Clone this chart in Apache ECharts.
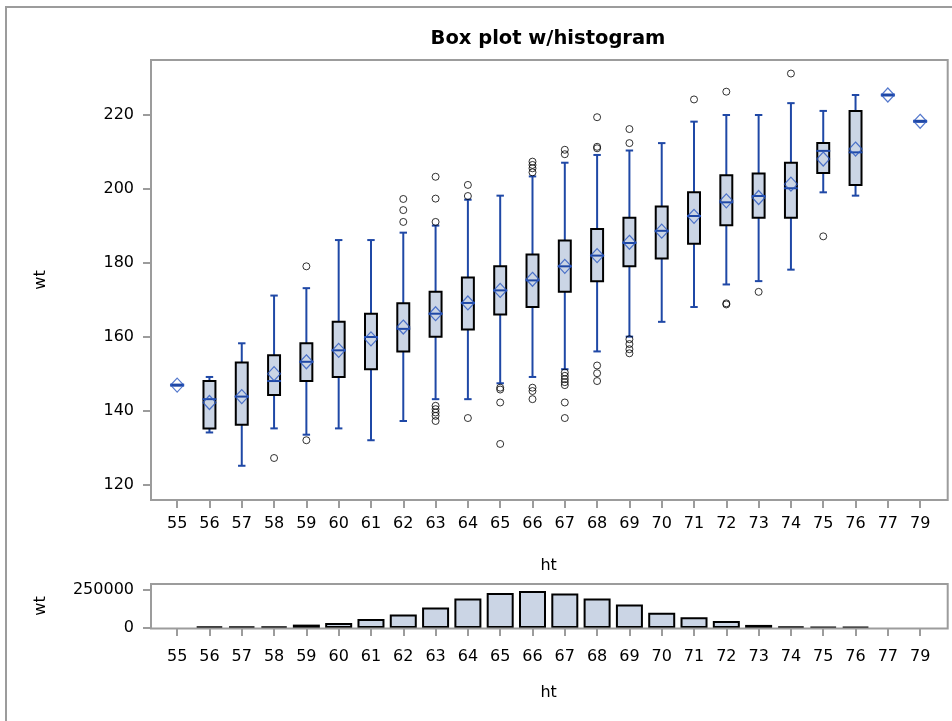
<!DOCTYPE html>
<html><head><meta charset="utf-8">
<script src="https://cdn.jsdelivr.net/npm/echarts@6/dist/echarts.min.js"></script>
<style>html,body{margin:0;padding:0;background:#fff}#c{width:952px;height:721px}</style>
</head><body><div id="c"></div>
<script>
const categories = ['55','56','57','58','59','60','61','62','63','64','65','66','67','68','69','70','71','72','73','74','75','76','77','79'];
const whiskerLow  = [147, 134.2, 125.2, 135.3, 133.6, 135.3, 132.1, 137.3, 143.2, 143.2, 147.5, 149.2, 151.3, 156.1, 160.1, 164.1, 168.1, 174.2, 175.1, 178.2, 199.1, 198.2, 225.4, 218.3];
const q1          = [147, 135.3, 136.3, 144.3, 148.1, 149.2, 151.3, 156.1, 160.1, 162.0, 166.1, 168.1, 172.2, 175.1, 179.1, 181.2, 185.2, 190.2, 192.2, 192.2, 204.3, 201.1, 225.4, 218.3];
const median      = [147, 143.2, 143.9, 148.1, 153.3, 156.4, 160.0, 162.2, 166.3, 169.2, 172.6, 175.3, 179.1, 182.0, 185.4, 188.7, 192.7, 196.4, 198.1, 200.2, 210.3, 209.9, 225.4, 218.3];
const q3          = [147, 148.1, 153.1, 155.1, 158.3, 164.1, 166.3, 169.1, 172.2, 176.1, 179.1, 182.3, 186.1, 189.2, 192.2, 195.3, 199.1, 203.7, 204.2, 207.1, 212.4, 221.1, 225.4, 218.3];
const whiskerHigh = [147, 149.2, 158.3, 171.2, 173.2, 186.2, 186.2, 188.2, 190.1, 197.1, 198.2, 203.4, 207.1, 209.2, 210.4, 212.4, 218.2, 220.0, 220.0, 223.2, 221.1, 225.4, 225.4, 218.3];
const meanWt      = [147, 142.3, 143.9, 150.1, 153.3, 156.4, 159.5, 162.7, 166.3, 169.2, 172.6, 175.6, 179.1, 182.0, 185.6, 188.6, 192.6, 196.8, 197.7, 201.3, 208.1, 210.8, 225.4, 218.3];
const outliers = [
  ['58',127.3],['59',179.1],['59',132.1],
  ['62',191.1],['62',194.3],['62',197.3],
  ['63',191.1],['63',197.4],['63',203.3],['63',141.4],['63',140.5],['63',139.6],['63',138.7],['63',137.3],
  ['64',201.1],['64',198.1],['64',138.1],
  ['65',146.3],['65',145.8],['65',142.3],['65',131.1],
  ['66',207.4],['66',206.5],['66',205.6],['66',204.5],['66',146.3],['66',145.4],['66',143.2],
  ['67',210.6],['67',209.4],['67',150.4],['67',149.5],['67',148.6],['67',147.8],['67',147.0],['67',142.3],['67',138.1],
  ['68',219.4],['68',211.4],['68',211.0],['68',152.3],['68',150.2],['68',148.1],
  ['69',216.2],['69',212.4],['69',159.4],['69',158.1],['69',156.7],['69',155.6],
  ['71',224.2],
  ['72',226.3],['72',169.1],['72',168.8],
  ['73',172.2],
  ['74',231.2],
  ['75',187.2]
];
const histWt = ['-', 9000, 10000, 10000, 22000, 33000, 59000, 88000, 134000, 191000, 228000, 241000, 224000, 191000, 153000, 99000, 70000, 46000, 20000, 9000, 8000, 8000, '-', '-'];
const boxTicks = [120, 140, 160, 180, 200, 220];
const histTicks = [0, 250000];

const FONT = 'DejaVu Sans';
const BLUE = '#1f48a6';
const FILL = '#cbd5e5';
const FRAME = '#9c9c9c';

const boxData = categories.map((c, i) => [i, whiskerLow[i], q1[i], median[i], q3[i], whiskerHigh[i]]);

function renderBox(params, api) {
  const i = api.value(0);
  const band = api.size([1, 0])[0];
  const pLow = api.coord([i, api.value(1)]);
  const pQ1 = api.coord([i, api.value(2)]);
  const pMed = api.coord([i, api.value(3)]);
  const pQ3 = api.coord([i, api.value(4)]);
  const pHigh = api.coord([i, api.value(5)]);
  const x = pLow[0];
  const bw = band * 0.37;
  const cw = band * 0.23;
  const single = (pLow[1] - pHigh[1]) < 0.5;
  const lineStyle = { stroke: BLUE, lineWidth: 2, fill: null };
  const children = [
    { type: 'line', shape: { x1: x, y1: pLow[1], x2: x, y2: pHigh[1] }, style: lineStyle },
    { type: 'line', shape: { x1: x - cw / 2, y1: pLow[1], x2: x + cw / 2, y2: pLow[1] }, style: lineStyle },
    { type: 'line', shape: { x1: x - cw / 2, y1: pHigh[1], x2: x + cw / 2, y2: pHigh[1] }, style: lineStyle }
  ];
  if (pQ1[1] - pQ3[1] > 0.5) {
    children.push({ type: 'rect', shape: { x: x - bw / 2, y: pQ3[1], width: bw, height: pQ1[1] - pQ3[1] },
      style: { fill: FILL, stroke: '#000', lineWidth: 2 } });
  }
  children.push({ type: 'line', shape: { x1: x - bw / 2 - 1, y1: pMed[1], x2: x + bw / 2 + 1, y2: pMed[1] },
    style: { stroke: BLUE, lineWidth: single ? 3 : 2, fill: null } });
  return { type: 'group', children };
}

const labelStyle = { fontFamily: FONT, fontSize: 16, color: '#000' };
const nameStyle = { fontFamily: FONT, fontSize: 16, color: '#000' };

const chart = echarts.init(document.getElementById('c'), null, { renderer: 'canvas' });
chart.setOption({
  backgroundColor: '#fff',
  animation: false,
  title: {
    text: 'Box plot w/histogram', left: 543, top: 24, textAlign: 'center',
    textStyle: { fontFamily: FONT, fontSize: 19.5, fontWeight: 'bold', color: '#000' }
  },
  grid: [
    { left: 161, right: 15.7, top: 60, bottom: 221 },
    { left: 161, right: 15.7, top: 584, bottom: 93 }
  ],
  xAxis: [
    { type: 'category', gridIndex: 0, data: categories, boundaryGap: true,
      axisLine: { show: false },
      axisTick: { show: true, alignWithLabel: true, interval: 0, length: 8, lineStyle: { color: FRAME, width: 2 } },
      axisLabel: Object.assign({ interval: 0, margin: 16 }, labelStyle),
      name: 'ht', nameLocation: 'middle', nameGap: 58, nameTextStyle: nameStyle,
      splitLine: { show: false } },
    { type: 'category', gridIndex: 1, data: categories, boundaryGap: true,
      axisLine: { show: false },
      axisTick: { show: true, alignWithLabel: true, interval: 0, length: 8, lineStyle: { color: FRAME, width: 2 } },
      axisLabel: Object.assign({ interval: 0, margin: 21 }, labelStyle),
      name: 'ht', nameLocation: 'middle', nameGap: 57, nameTextStyle: nameStyle,
      splitLine: { show: false } }
  ],
  yAxis: [
    { type: 'value', gridIndex: 0, min: 115.95, max: 234.86, offset: 10,
      axisLine: { show: false },
      axisTick: { show: true, length: 8, customValues: boxTicks, lineStyle: { color: FRAME, width: 2 } },
      axisLabel: Object.assign({ margin: 17, customValues: boxTicks, formatter: v => String(v) }, labelStyle),
      splitLine: { show: false },
      name: 'wt', nameLocation: 'middle', nameGap: 102, nameRotate: 90, nameTextStyle: nameStyle },
    { type: 'value', gridIndex: 1, min: 0, max: 286000, offset: 10,
      axisLine: { show: false },
      axisTick: { show: true, length: 8, customValues: histTicks, lineStyle: { color: FRAME, width: 2 } },
      axisLabel: Object.assign({ margin: 17, customValues: histTicks, formatter: v => String(v) }, labelStyle),
      splitLine: { show: false },
      name: 'wt', nameLocation: 'middle', nameGap: 102, nameRotate: 90, nameTextStyle: nameStyle }
  ],
  series: [
    { type: 'custom', xAxisIndex: 0, yAxisIndex: 0, data: boxData, renderItem: renderBox,
      encode: { x: 0, y: [1, 2, 3, 4, 5] }, z: 2, clip: false },
    { type: 'scatter', xAxisIndex: 0, yAxisIndex: 0, data: outliers, symbol: 'circle', symbolSize: 7,
      itemStyle: { color: 'rgba(0,0,0,0)', borderColor: '#000', borderWidth: 1 }, z: 3 },
    { type: 'scatter', xAxisIndex: 0, yAxisIndex: 0, data: meanWt, symbol: 'diamond', symbolSize: [13, 14],
      itemStyle: { color: 'rgba(0,0,0,0)', borderColor: '#2a58c0', borderWidth: 1.2 }, z: 4 },
    { type: 'bar', xAxisIndex: 1, yAxisIndex: 1, data: histWt, barWidth: 27,
      itemStyle: { color: FILL, borderColor: '#000', borderWidth: 2 } }
  ],
  graphic: [
    { type: 'rect', shape: { x: 6, y: 7, width: 1000, height: 1000 }, style: { fill: null, stroke: FRAME, lineWidth: 2 }, z: 100, silent: true },
    { type: 'rect', shape: { x: 151, y: 60, width: 796.7, height: 440 }, style: { fill: null, stroke: FRAME, lineWidth: 2 }, z: 100, silent: true },
    { type: 'rect', shape: { x: 151, y: 584, width: 796.7, height: 44.5 }, style: { fill: null, stroke: FRAME, lineWidth: 2 }, z: 100, silent: true }
  ]
});
</script></body></html>
